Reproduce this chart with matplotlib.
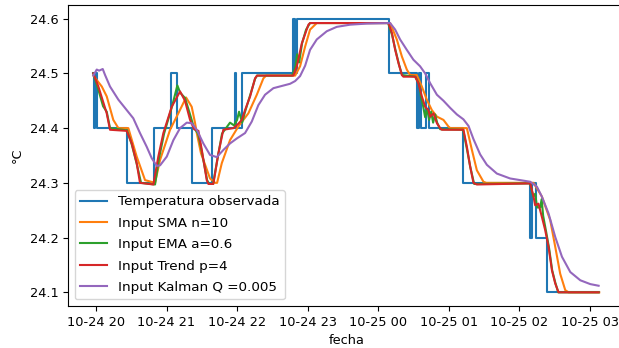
import numpy as np
import pandas as pd
import matplotlib
matplotlib.use("Agg")
import matplotlib.pyplot as plt
import matplotlib.dates as mdates

base = pd.Timestamp("2022-10-24 20:00")

# observed temperature: change points (minutes after 20:00, value) -> step line
obs_t = [-2.3, -1.5, -0.5, 0.5, 26.6, 49.4, 63.6, 69.2, 82.0, 98.5, 118.3, 119.1, 124.5,
         167.9, 169.3, 171.1, 249.3, 272.9, 274.9, 276.6, 280.8, 283.4, 312.6, 369.3,
         371.0, 374.0, 384.1, 428.1]
obs_v = [24.5, 24.4, 24.5, 24.4, 24.3, 24.4, 24.5, 24.4, 24.3, 24.4, 24.5, 24.4, 24.5,
         24.6, 24.5, 24.6, 24.5, 24.4, 24.5, 24.4, 24.5, 24.4, 24.3, 24.2,
         24.3, 24.2, 24.1, 24.1]

sma_t = [-2.3, 4.9, 9.1, 14.7, 19.0, 27.5, 34.6, 41.7, 50.2, 54.5, 63.0, 70.0, 76.6, 81.4,
         84.2, 85.7, 89.3, 97.0, 101.3, 103.0, 107.0, 114.0, 121.1, 129.6, 136.8, 142.4,
         144.7, 169.4, 173.6, 177.9, 182.1, 187.8, 250.2, 255.9, 260.2, 264.4, 267.2,
         272.9, 277.2, 281.4, 285.7, 290.0, 295.6, 299.8, 301.3, 315.5, 319.8, 324.0,
         329.6, 332.0, 372.2, 375.1, 379.3, 386.4, 390.7, 394.9, 399.2, 402.0, 428.1]
sma_v = [24.496, 24.476, 24.458, 24.415, 24.40, 24.40, 24.348, 24.305, 24.30, 24.342,
         24.397, 24.427, 24.456, 24.439, 24.41, 24.391, 24.354, 24.308, 24.30, 24.30,
         24.336, 24.378, 24.403, 24.427, 24.461, 24.491, 24.496, 24.496, 24.513, 24.549,
         24.58, 24.592, 24.592, 24.562, 24.531, 24.507, 24.497, 24.497, 24.476, 24.452,
         24.433, 24.421, 24.415, 24.403, 24.40, 24.40, 24.36, 24.323, 24.302, 24.30,
         24.30, 24.29, 24.275, 24.232, 24.183, 24.134, 24.104, 24.10, 24.10]

ema_t = [-2.3, 2.0, 6.0, 9.1, 10.5, 11.9, 26.4, 30.4, 34.6, 38.3, 50.2, 53.6, 57.9, 64.7,
         69.2, 71.5, 75.7, 80.0, 83.4, 86.8, 90.2, 94.5, 96.2, 99.6, 103.0, 107.2, 110.6,
         114.0, 117.4, 120.0, 121.7, 124.3, 126.8, 131.1, 135.3, 137.0, 166.8, 169.4,
         171.1, 172.8, 175.3, 178.7, 182.1, 248.5, 251.9, 254.5, 257.9, 260.4, 271.5,
         274.9, 276.6, 278.3, 280.0, 281.7, 283.4, 285.1, 286.8, 288.5, 290.2, 292.8,
         312.3, 315.7, 318.3, 321.7, 369.4, 371.9, 373.6, 375.3, 377.9, 379.1, 380.4,
         383.0, 385.5, 388.1, 390.7, 393.2, 427.7]
ema_v = [24.50, 24.47, 24.44, 24.43, 24.415, 24.40, 24.396, 24.37, 24.335, 24.30, 24.297,
         24.345, 24.39, 24.44, 24.478, 24.465, 24.455, 24.425, 24.40, 24.39, 24.355,
         24.305, 24.298, 24.298, 24.34, 24.39, 24.40, 24.41, 24.405, 24.415, 24.43, 24.41,
         24.43, 24.46, 24.49, 24.496, 24.496, 24.51, 24.535, 24.52, 24.555, 24.58, 24.592,
         24.592, 24.57, 24.545, 24.515, 24.497, 24.494, 24.48, 24.455, 24.44, 24.42,
         24.435, 24.415, 24.43, 24.41, 24.425, 24.41, 24.398, 24.397, 24.36, 24.33,
         24.298, 24.299, 24.275, 24.28, 24.255, 24.255, 24.27, 24.24, 24.21, 24.18,
         24.14, 24.118, 24.10, 24.10]

trend_t = [-2.3, 2.0, 9.1, 11.9, 26.1, 30.4, 34.6, 37.4, 48.8, 53.0, 57.3, 64.4, 71.5, 75.7,
           80.0, 83.4, 87.1, 90.0, 94.2, 95.6, 99.8, 104.1, 108.3, 116.9, 121.1, 124.0,
           126.8, 131.1, 135.3, 137.0, 167.9, 170.8, 175.1, 180.7, 182.1, 248.8, 251.7,
           254.5, 257.3, 260.2, 261.5, 271.5, 274.3, 277.2, 280.0, 282.8, 284.3, 287.1,
           290.0, 292.8, 294.2, 312.6, 315.5, 318.3, 321.1, 324.0, 369.4, 372.2, 373.6,
           376.4, 379.3, 382.1, 385.0, 387.9, 390.7, 393.5, 427.6]
trend_v = [24.50, 24.476, 24.427, 24.397, 24.395, 24.372, 24.336, 24.30, 24.297, 24.348,
           24.391, 24.439, 24.467, 24.450, 24.415, 24.398, 24.395, 24.36, 24.305, 24.298,
           24.298, 24.354, 24.397, 24.40, 24.408, 24.415, 24.433, 24.458, 24.491, 24.496,
           24.496, 24.513, 24.555, 24.589, 24.592, 24.592, 24.574, 24.543, 24.519, 24.497,
           24.494, 24.494, 24.482, 24.458, 24.439, 24.433, 24.421, 24.427, 24.409, 24.40,
           24.397, 24.397, 24.366, 24.33, 24.30, 24.297, 24.299, 24.275, 24.259, 24.262,
           24.238, 24.214, 24.183, 24.14, 24.116, 24.10, 24.10]

kal_t = [-2.3, 0.6, 2.6, 5.7, 7.7, 11.9, 19.0, 26.1, 31.7, 37.4, 43.1, 47.4, 51.7, 54.5,
         60.2, 65.8, 71.5, 77.2, 81.4, 85.7, 91.3, 97.0, 102.7, 108.3, 114.0, 119.7, 126.8,
         132.5, 138.1, 143.8, 150.9, 158.0, 165.1, 169.4, 173.6, 177.9, 182.1, 187.8,
         196.3, 204.8, 216.2, 230.4, 250.2, 254.5, 258.7, 264.4, 270.0, 275.7, 280.0,
         284.3, 290.0, 295.6, 301.3, 307.0, 312.6, 316.9, 321.1, 326.8, 332.5, 341.0,
         352.3, 363.7, 369.4, 375.1, 379.3, 385.0, 390.7, 396.4, 403.5, 412.0, 420.5, 427.6]
kal_v = [24.496, 24.507, 24.505, 24.508, 24.497, 24.476, 24.452, 24.433, 24.418, 24.391,
         24.366, 24.345, 24.331, 24.332, 24.348, 24.378, 24.40, 24.41, 24.409, 24.397,
         24.372, 24.351, 24.347, 24.36, 24.372, 24.381, 24.391, 24.412, 24.442, 24.461,
         24.473, 24.477, 24.481, 24.486, 24.495, 24.514, 24.543, 24.562, 24.577, 24.585,
         24.589, 24.591, 24.592, 24.58, 24.562, 24.543, 24.525, 24.513, 24.50, 24.482,
         24.461, 24.45, 24.437, 24.425, 24.416, 24.404, 24.38, 24.352, 24.333, 24.317,
         24.308, 24.304, 24.302, 24.293, 24.275, 24.244, 24.201, 24.165, 24.137, 24.122,
         24.115, 24.112]

labels = ["Temperatura observada", "Input SMA n=10", "Input EMA a=0.6",
          "Input Trend p=4", "Input Kalman Q =0.005"]


def to_dt(mins):
    return base + pd.to_timedelta(np.asarray(mins), unit="min")


fig = plt.figure(figsize=(6.19, 3.48), dpi=100)
ax = fig.add_axes([0.1099, 0.1207, 0.899, 0.865])

ax.plot(to_dt(obs_t), obs_v, drawstyle="steps-post", label=labels[0], color="C0")
ax.plot(to_dt(sma_t), sma_v, label=labels[1], color="C1")
ax.plot(to_dt(ema_t), ema_v, label=labels[2], color="C2")
ax.plot(to_dt(trend_t), trend_v, label=labels[3], color="C3")
ax.plot(to_dt(kal_t), kal_v, label=labels[4], color="C4")

ax.xaxis.set_major_locator(mdates.HourLocator())
ax.xaxis.set_major_formatter(mdates.DateFormatter("%m-%d %H"))
ax.set_yticks([24.1, 24.2, 24.3, 24.4, 24.5, 24.6])
ax.tick_params(labelsize=9.3)
ax.set_xlabel("fecha", fontsize=9.3)
ax.set_ylabel("°C", fontsize=9.3)
ax.legend(loc="lower left", fontsize=9.7, labelspacing=0.62)

fig.savefig("out.png", dpi=100)
